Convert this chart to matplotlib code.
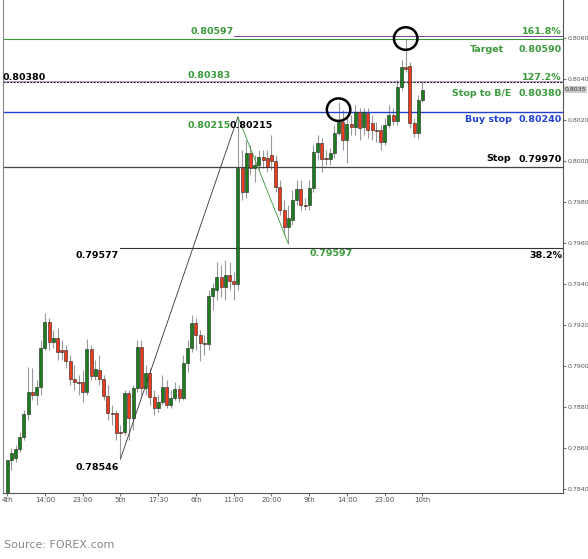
import matplotlib
matplotlib.use("Agg")
import matplotlib.pyplot as plt
from matplotlib.patches import Rectangle, Ellipse

opens = [.78380,.78541,.78551,.78595,.78654,.78766,.78873,.78859,.78898,.79088,
         .79215,.79117,.79137,.79078,.79078,.79025,.78937,.78922,.78922,.78873,
         .79083,.78951,.78981,.78937,.78854,.78771,.78771,.78678,.78678,.78868,
         .78746,.78893,.79093,.78893,.78966,.78849,.78795,.78825,.78898,.78810,
         .78844,.78888,.78844,.79015,.79088,.79210,.79151,.79112,.79107,.79342,
         .79371,.79434,.79386,.79444,.79415,.79400,.79966,.79849,.80039,.79966,
         .79981,.80020,.80015,.80030,.80000,.79873,.79761,.79678,.79713,.79810,
         .79864,.79786,.79786,.79869,.80044,.80088,.80015,.80010,.80039,.80137,
         .80191,.80103,.80181,.80166,.80239,.80166,.80234,.80186,.80151,.80151,
         .80093,.80176,.80225,.80196,.80362,.80459,.80464,.80186,.80137,.80298]
closes = [.78541,.78575,.78595,.78654,.78766,.78873,.78859,.78898,.79088,.79215,
          .79117,.79137,.79069,.79069,.79025,.78937,.78922,.78917,.78873,.79083,
          .78951,.78985,.78937,.78854,.78771,.78766,.78673,.78673,.78868,.78746,
          .78893,.79093,.78893,.78966,.78849,.78795,.78825,.78898,.78810,.78844,
          .78888,.78844,.79015,.79088,.79210,.79151,.79112,.79107,.79342,.79381,
          .79434,.79386,.79444,.79415,.79400,.79966,.79849,.80039,.79966,.79981,
          .80020,.80005,.79971,.80000,.79873,.79761,.79678,.79722,.79810,.79864,
          .79786,.79781,.79869,.80044,.80088,.80010,.80010,.80039,.80137,.80191,
          .80103,.80181,.80166,.80239,.80161,.80239,.80151,.80151,.80147,.80093,
          .80176,.80225,.80196,.80362,.80459,.80449,.80186,.80137,.80298,.80347]
highs = [.78380,.78600,.78615,.78678,.78786,.78995,.78990,.78932,.79127,.79258,
         .79234,.79176,.79185,.79127,.79102,.79054,.79005,.78956,.78981,.79132,
         .79102,.79030,.79054,.78956,.78908,.78810,.78786,.78712,.78883,.78883,
         .78908,.79127,.79127,.79005,.78990,.78883,.78859,.78956,.78932,.78883,
         .78922,.78908,.79054,.79127,.79249,.79234,.79176,.79151,.79371,.79405,
         .79508,.79493,.79517,.79508,.79459,.80215,.80054,.80103,.80078,.80030,
         .80054,.80054,.80054,.80127,.80030,.79908,.79810,.79786,.79859,.79908,
         .79908,.79820,.79908,.80078,.80127,.80112,.80054,.80064,.80176,.80288,
         .80249,.80225,.80225,.80274,.80259,.80259,.80259,.80225,.80191,.80176,
         .80210,.80274,.80259,.80396,.80493,.80597,.80483,.80210,.80322,.80386]
lows = [.78380,.78493,.78532,.78581,.78639,.78737,.78834,.78810,.78859,.79078,
        .79078,.79088,.79030,.79030,.78990,.78907,.78883,.78859,.78824,.78859,
        .78932,.78932,.78907,.78834,.78737,.78712,.78639,.78546,.78664,.78639,
        .78688,.78873,.78859,.78859,.78810,.78761,.78776,.78810,.78795,.78795,
        .78834,.78825,.78834,.78971,.79069,.79078,.79025,.79054,.79078,.79273,
        .79322,.79337,.79322,.79371,.79322,.79371,.79810,.79820,.79932,.79898,
        .79956,.79966,.79947,.79956,.79849,.79737,.79639,.79597,.79688,.79786,
        .79761,.79761,.79761,.79849,.80005,.79947,.79981,.79981,.80015,.80127,
        .80054,.79991,.80127,.80127,.80103,.80127,.80112,.80103,.80093,.80054,
        .80078,.80161,.80176,.80176,.80347,.80435,.80161,.80118,.80112,.80288]
tick_labels = ["4th","14:00","23:00","5th","17:30","6th","11:00","20:00","9th","14:00","23:00","10th"]
yticks = [0.7840,0.7860,0.7880,0.7900,0.7920,0.7940,0.7960,0.7980,0.8000,0.8020,0.8040,0.8060]

W, H = 588, 559
fig = plt.figure(figsize=(W/100, H/100), dpi=100)
ax = fig.add_axes([3/W, 66/H, 560/W, 493/H])
ax.set_xlim(0.0, 133.5)
ax.set_ylim(0.78380, 0.80785)

for i,(o,c,h,l) in enumerate(zip(opens,closes,highs,lows)):
    x = i + 1
    up = c >= o
    col = "#1a7f1a" if up else "#ee3b1c"
    ax.vlines(x, l, h, color="#999999", lw=0.8, zorder=2)
    b = min(o,c); hh = max(abs(c-o), 0.00003)
    ax.add_patch(Rectangle((x-0.36, b), 0.72, hh, facecolor=col,
                           edgecolor="#222222", lw=0.4, zorder=3))

ax.axhline(0.80597, color="#3a9a3a", lw=0.8)
ax.plot([55, 133.5], [0.80610, 0.80610], color="#8040a0", lw=0.7)
ax.axhline(0.80383, color="#222222", lw=0.8, ls=(0,(2,1)))
ax.plot([0, 133.5], [0.80392, 0.80392], color="#a070c0", lw=0.5)
ax.axhline(0.80240, color="#2040d0", lw=1.0)
ax.axhline(0.79970, color="#444444", lw=0.9)
ax.plot([28, 133.5], [0.79577, 0.79577], color="#333333", lw=0.8)
ax.plot([28, 56], [lows[27], highs[55]], color="#333333", lw=0.6)
ax.plot([56, 68], [highs[55], lows[67]], color="#3a9a3a", lw=0.6)

for (cx, cy) in [(80, 0.80250), (96, 0.80597)]:
    ax.add_patch(Ellipse((cx, cy), 5.6, 0.0011, fill=False, ec="black", lw=1.8, zorder=5))

ax.set_xticks([1 + 9*k for k in range(12)])
ax.set_xticklabels(tick_labels, fontsize=5, color="#555555")
ax.yaxis.tick_right()
ax.set_yticks(yticks)
ax.set_yticklabels([f"{v:.4f}" for v in yticks], fontsize=4.5, color="#555555")
ax.tick_params(axis="both", length=2, pad=1, color="#777777")
ax.spines["top"].set_visible(False)
ax.spines["left"].set_color("#888888")
ax.spines["right"].set_color("#555555")
ax.spines["bottom"].set_color("#555555")
ax.text(1.003, 0.80350, "0.8035", transform=ax.get_yaxis_transform(), fontsize=4.5,
        va="center", ha="left", color="#333333",
        bbox=dict(boxstyle="square,pad=0.15", fc="#cccccc", ec="none"))

G = "#3a9a3a"
def t(x, y, s, c="black", ha="left"):
    fig.text(x/W, 1-y/H, s, color=c, fontsize=6.8, fontweight="bold", ha=ha, va="center")
t(190, 32, "0.80597", G)
t(562, 32, "161.8%", G, "right")
t(470, 50, "Target", G)
t(562, 50, "0.80590", G, "right")
t(3, 77, "0.80380")
t(188, 75, "0.80383", G)
t(562, 77, "127.2%", G, "right")
t(452, 94, "Stop to B/E", G)
t(562, 94, "0.80380", G, "right")
t(465, 120, "Buy stop", "#2040d0")
t(562, 120, "0.80240", "#2040d0", "right")
t(188, 125, "0.80215", G)
t(229, 125, "0.80215")
t(486, 158, "Stop")
t(562, 160, "0.79970", "black", "right")
t(310, 253, "0.79597", G)
t(75, 256, "0.79577")
t(562, 256, "38.2%", "black", "right")
t(75, 468, "0.78546")
fig.text(4/W, 1-545/H, "Source: FOREX.com", fontsize=8, color="#888888", va="center")
fig.savefig("out.png", dpi=100)
